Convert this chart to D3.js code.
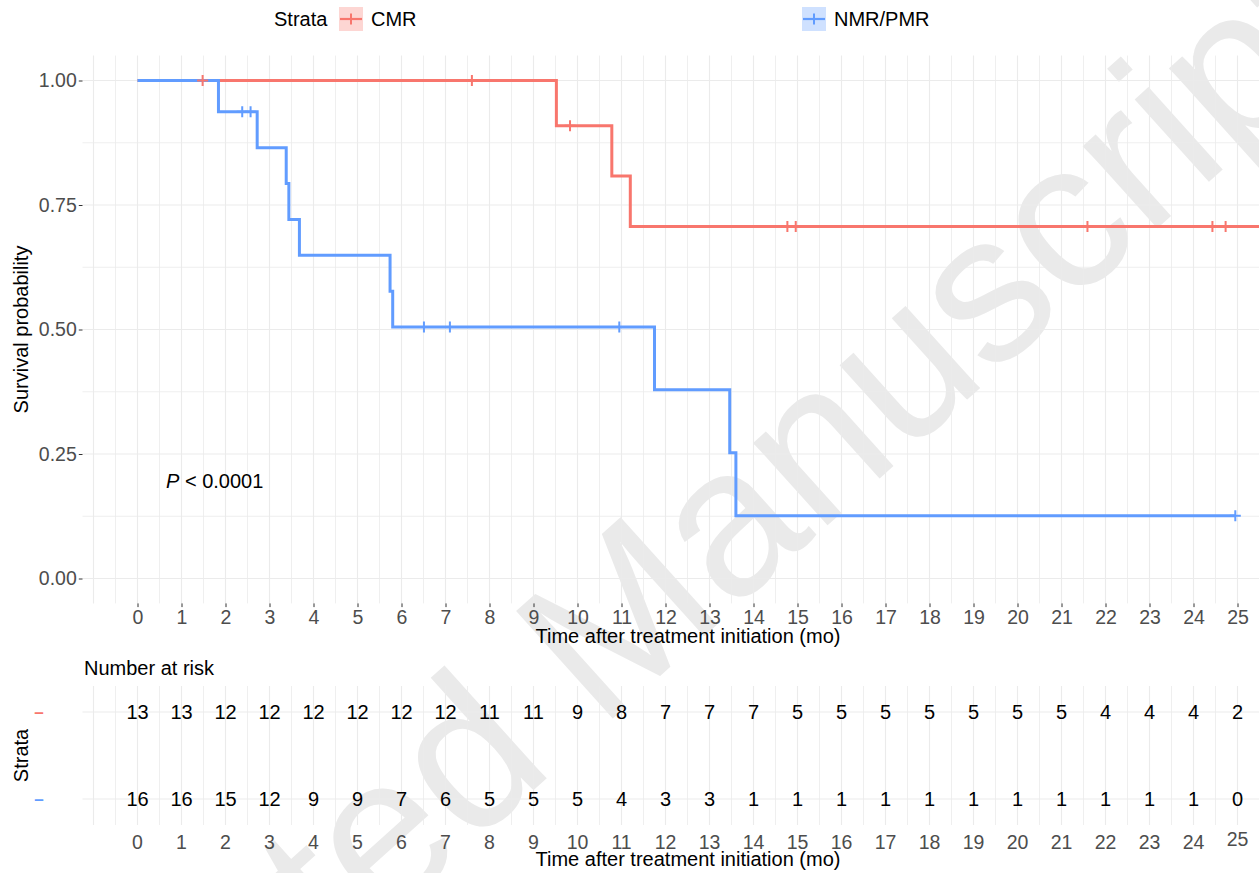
<!DOCTYPE html>
<html>
<head>
<meta charset="utf-8">
<script src="https://cdn.jsdelivr.net/npm/d3@7"></script>
<style>
  html, body { margin: 0; padding: 0; background: #fff; }
  svg { display: block; }
  text { font-family: "Liberation Sans", Arial, Helvetica, sans-serif; }
</style>
</head>
<body>
<svg id="chart" width="1259" height="873"></svg>
<script>
// ---------------- data ----------------
const strata = ["CMR", "NMR/PMR"];
const colors = ["#F8766D", "#619CFF"];

// step curves: event times and survival after each step
const cmrTimes = [0, 9.52, 10.78, 11.2];
const cmrSurv  = [1.0, 0.909, 0.808, 0.707];
const cmrEnd   = 26.0;
const cmrCensor = [1.48, 7.6, 9.83, 14.77, 14.96, 21.59, 24.43, 24.73];

const nmrTimes = [0, 1.84, 2.72, 3.38, 3.44, 3.68, 5.74, 5.80, 11.75, 13.46, 13.6];
const nmrSurv  = [1.0, 0.9375, 0.865, 0.793, 0.721, 0.649, 0.577, 0.505, 0.379, 0.2525, 0.126];
const nmrEnd   = 24.95;
const nmrCensor = [2.38, 2.57, 6.51, 7.10, 10.95, 24.95];

const riskTimes = d3.range(0, 26);
const riskCMR = [13,13,12,12,12,12,12,12,11,11,9,8,7,7,7,5,5,5,5,5,5,5,4,4,4,2];
const riskNMR = [16,16,15,12,9,9,7,6,5,5,5,4,3,3,1,1,1,1,1,1,1,1,1,1,1,0];

const yTicks = [0, 0.25, 0.5, 0.75, 1.0];
const yTickLabels = ["0.00", "0.25", "0.50", "0.75", "1.00"];
const xTicks = d3.range(0, 26);
const pText = "< 0.0001";
const xTitle = "Time after treatment initiation (mo)";

// ---------------- layout ----------------
const svg = d3.select("#chart");
const FONT = 19.5;
const GRID = "#EBEBEB";
const AXT = "#4D4D4D";

const x = d3.scaleLinear().domain([0, 25]).range([137.5, 1237.5]);
const xLeft = x(-1.25), xRight = x(26.25);
const y = d3.scaleLinear().domain([0, 1]).range([578.5, 80.5]);
const yTop = y(1.05), yBot = y(-0.05);

const yRisk = d3.scalePoint().domain(strata).range([712, 799]);
const riskTop = 686, riskBot = 825;

svg.append("rect").attr("width", 1259).attr("height", 873).attr("fill", "#fff");

// watermark
svg.append("text")
  .attr("transform", "translate(-94,1355) rotate(-42)")
  .attr("font-size", 210)
  .attr("fill", "#eaeaea")
  .text("Accepted Manuscript");

// ---------------- main panel grid ----------------
const gMain = svg.append("g");
const halfTicks = d3.range(-1, 26.5, 0.5);
gMain.selectAll("line.vg").data(halfTicks).join("line")
  .attr("x1", d => x(d)).attr("x2", d => x(d))
  .attr("y1", yTop).attr("y2", yBot)
  .attr("stroke", GRID).attr("stroke-width", d => Number.isInteger(d) ? 1.1 : 0.8);
const yGrid = d3.range(0, 1.001, 0.125);
gMain.selectAll("line.hg").data(yGrid).join("line")
  .attr("x1", xLeft).attr("x2", xRight)
  .attr("y1", d => y(d)).attr("y2", d => y(d))
  .attr("stroke", GRID).attr("stroke-width", (d, i) => i % 2 === 0 ? 1.1 : 0.8);

// y axis
const yAxis = d3.axisLeft(y).tickValues(yTicks)
  .tickFormat((d, i) => yTickLabels[i]).tickSize(3.7).tickPadding(2);
const gy = svg.append("g").attr("transform", `translate(${xLeft},0)`).call(yAxis);
gy.select(".domain").remove();
gy.selectAll(".tick line").attr("stroke", "#333");
gy.selectAll(".tick text").attr("font-size", FONT).attr("fill", AXT)
  .attr("font-family", "Liberation Sans, Arial, sans-serif");

// x axis (main)
const xAxis = d3.axisBottom(x).tickValues(xTicks).tickFormat(d3.format("d"))
  .tickSize(3.7).tickPadding(3);
const gx = svg.append("g").attr("transform", `translate(0,${yBot})`).call(xAxis);
gx.select(".domain").remove();
gx.selectAll(".tick line").attr("stroke", "#333");
gx.selectAll(".tick text").attr("font-size", FONT).attr("fill", AXT)
  .attr("font-family", "Liberation Sans, Arial, sans-serif");

// axis titles
svg.append("text").attr("x", 688).attr("y", 643).attr("text-anchor", "middle")
  .attr("font-size", 20).attr("fill", "#000").text(xTitle);
svg.append("text").attr("transform", `translate(28,${(yTop + yBot) / 2}) rotate(-90)`)
  .attr("text-anchor", "middle").attr("font-size", 20).attr("fill", "#000")
  .text("Survival probability");

// ---------------- curves ----------------
function stepPoints(times, surv, end) {
  const pts = times.map((t, i) => [t, surv[i]]);
  pts.push([end, surv[surv.length - 1]]);
  return pts;
}
function survAt(times, surv, t) {
  let s = surv[0];
  for (let i = 0; i < times.length; i++) if (times[i] <= t) s = surv[i];
  return s;
}
const line = d3.line().x(d => x(d[0])).y(d => y(d[1])).curve(d3.curveStepAfter);
const curves = [
  { pts: stepPoints(cmrTimes, cmrSurv, cmrEnd), times: cmrTimes, surv: cmrSurv, cens: cmrCensor, c: colors[0] },
  { pts: stepPoints(nmrTimes, nmrSurv, nmrEnd), times: nmrTimes, surv: nmrSurv, cens: nmrCensor, c: colors[1] }
];
const gCurves = svg.append("g");
curves.forEach(cv => {
  gCurves.append("path").datum(cv.pts).attr("d", line)
    .attr("fill", "none").attr("stroke", cv.c).attr("stroke-width", 3)
    .attr("stroke-linejoin", "miter");
});
const plusPath = "M-5.5,0H5.5M0,-5.5V5.5";
curves.forEach(cv => {
  gCurves.selectAll(null).data(cv.cens).join("path")
    .attr("transform", t => `translate(${x(t)},${y(survAt(cv.times, cv.surv, t))})`)
    .attr("d", plusPath).attr("stroke", cv.c).attr("stroke-width", 2).attr("fill", "none");
});

// p-value
const pt = svg.append("text").attr("x", 166).attr("y", 488).attr("font-size", 20).attr("fill", "#000");
pt.append("tspan").attr("font-style", "italic").text("P");
pt.append("tspan").text(" " + pText);

// ---------------- legend ----------------
svg.append("text").attr("x", 274).attr("y", 26).attr("font-size", 20).attr("fill", "#000").text("Strata");
const legendKeys = [339, 802];
strata.forEach((s, i) => {
  const kx = legendKeys[i];
  const g = svg.append("g");
  g.append("rect").attr("x", kx).attr("y", 7).attr("width", 24).attr("height", 24)
    .attr("fill", colors[i]).attr("fill-opacity", 0.3);
  g.append("line").attr("x1", kx + 1).attr("x2", kx + 23).attr("y1", 19).attr("y2", 19)
    .attr("stroke", colors[i]).attr("stroke-width", 2.2);
  g.append("path").attr("transform", `translate(${kx + 12},19)`).attr("d", plusPath)
    .attr("stroke", colors[i]).attr("stroke-width", 2);
  g.append("text").attr("x", kx + 32).attr("y", 26).attr("font-size", 20).attr("fill", "#000").text(s);
});

// ---------------- risk table ----------------
svg.append("text").attr("x", 84).attr("y", 675).attr("font-size", 20).attr("fill", "#000").text("Number at risk");
const gRisk = svg.append("g");
gRisk.selectAll("line.rv").data(halfTicks).join("line")
  .attr("x1", d => x(d)).attr("x2", d => x(d))
  .attr("y1", riskTop).attr("y2", riskBot)
  .attr("stroke", GRID).attr("stroke-width", d => Number.isInteger(d) ? 1.1 : 0.8);
gRisk.selectAll("line.rh").data(strata).join("line")
  .attr("x1", xLeft).attr("x2", xRight)
  .attr("y1", d => yRisk(d)).attr("y2", d => yRisk(d))
  .attr("stroke", GRID).attr("stroke-width", 1.1);

const riskRows = [riskCMR, riskNMR];
strata.forEach((s, si) => {
  gRisk.selectAll(null).data(riskRows[si]).join("text")
    .attr("x", (d, i) => x(riskTimes[i])).attr("y", yRisk(s))
    .attr("dy", "0.36em").attr("text-anchor", "middle")
    .attr("font-size", 20).attr("fill", "#000").text(d => d);
  svg.append("text").attr("x", 39).attr("y", yRisk(s)).attr("dy", "0.33em")
    .attr("text-anchor", "middle").attr("font-size", 17).attr("font-weight", "bold")
    .attr("fill", colors[si]).text("–");
});
svg.append("text").attr("transform", `translate(28,${(riskTop + riskBot) / 2}) rotate(-90)`)
  .attr("text-anchor", "middle").attr("font-size", 20).attr("fill", "#000").text("Strata");

// risk x axis labels (no tick marks)
const gxr = svg.append("g");
gxr.selectAll("text").data(xTicks).join("text")
  .attr("x", d => x(d)).attr("y", d => d === 25 ? 839 : 842).attr("dy", "0.36em")
  .attr("text-anchor", "middle").attr("font-size", FONT).attr("fill", AXT)
  .text(d3.format("d"));
svg.append("text").attr("x", 688).attr("y", 866).attr("text-anchor", "middle")
  .attr("font-size", 20).attr("fill", "#000").text(xTitle);
</script>
</body>
</html>
